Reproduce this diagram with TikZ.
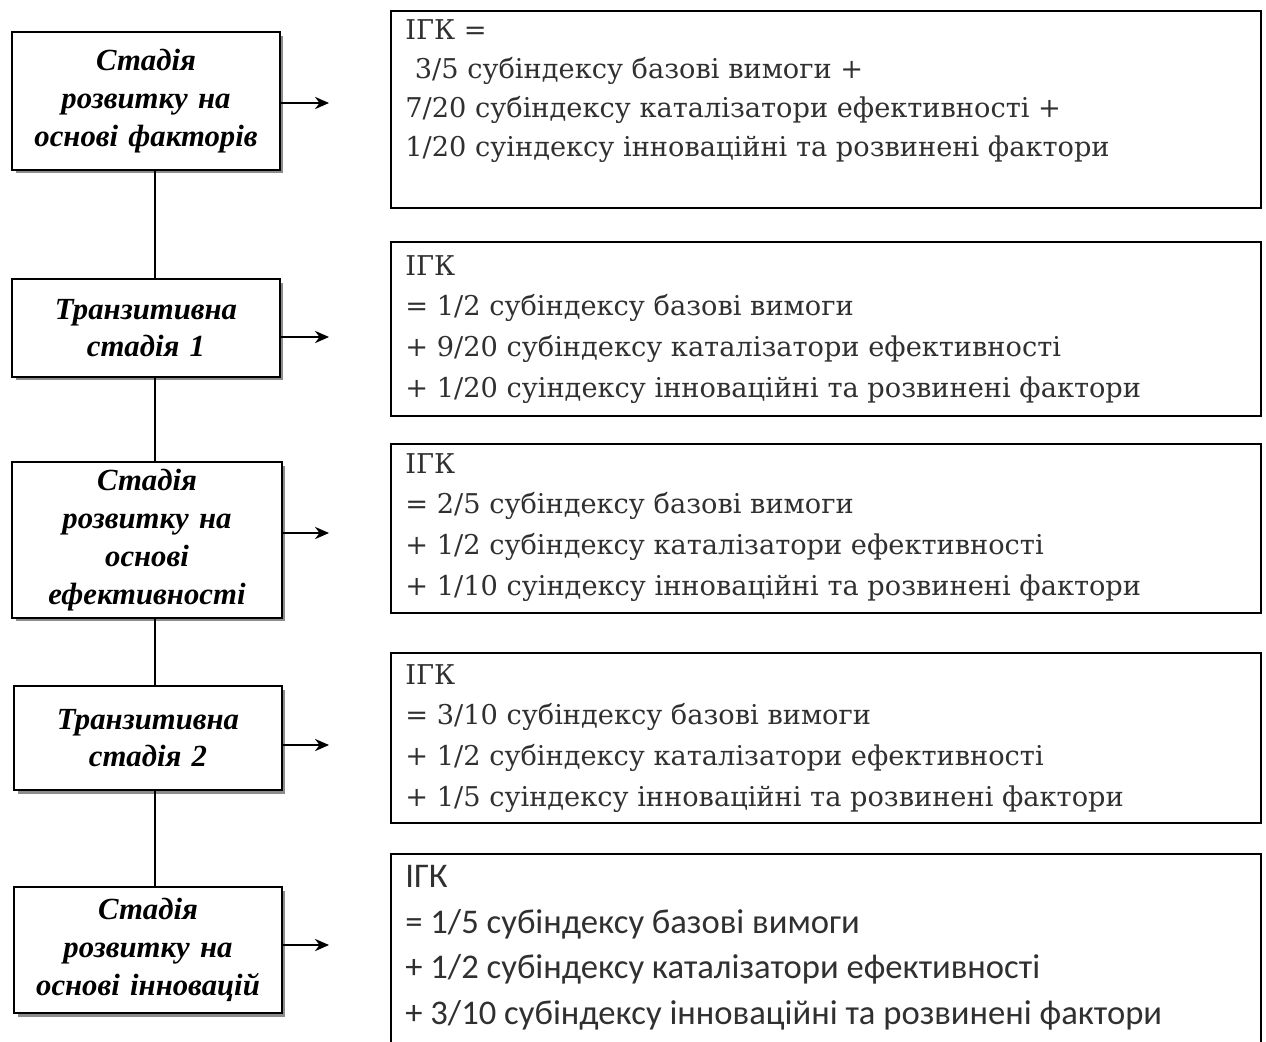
\documentclass[tikz,border=0pt]{standalone}
\usepackage{fontspec}
\setmainfont{DejaVu Serif}
\newfontfamily\stagefont{Liberation Serif}
\newfontfamily\calfont{Carlito}
\usetikzlibrary{shadows,arrows.meta}
\definecolor{txtgray}{HTML}{303030}
\tikzset{
  stage/.style={draw, line width=1.2pt, fill=white, minimum width=5.36cm,
    text width=5.2cm, align=center, inner sep=0pt,
    font=\stagefont\bfseries\itshape\fontsize{17.5}{21.5}\selectfont,
    drop shadow={shadow xshift=0.07cm, shadow yshift=-0.07cm, fill=gray, opacity=.9}},
  frame/.style={draw, line width=1.1pt, minimum width=17.4cm, inner sep=0pt, anchor=north west},
  formula/.style={anchor=north west, align=left, inner sep=0pt, text=txtgray,
    font=\fontsize{15.5}{23.2}\selectfont},
  link/.style={line width=0.9pt},
  arr/.style={line width=0.9pt, -{Stealth[length=8pt, width=7pt]}}
}
\begin{document}
\begin{tikzpicture}[x=0.02cm, y=-0.02cm]
\useasboundingbox (0,0) rectangle (1266,1041);
% stages
\node[stage, minimum height=2.76cm] (s1) at (146,101) {Стадія\\розвитку на\\основі факторів};
\node[stage, minimum height=1.96cm] (s2) at (146,328) {Транзитивна\\стадія 1};
\node[stage, minimum height=3.12cm, minimum width=5.4cm] (s3) at (147,540) {Стадія\\розвитку на\\основі\\ефективності};
\node[stage, minimum height=2.08cm] (s4) at (148,738) {Транзитивна\\стадія 2};
\node[stage, minimum height=2.52cm] (s5) at (148,950) {Стадія\\розвитку на\\основі інновацій};
% frames
\node[frame, minimum height=3.94cm] (r1) at (390,10) {};
\node[frame, minimum height=3.48cm] (r2) at (390,241) {};
\node[frame, minimum height=3.38cm] (r3) at (390,443) {};
\node[frame, minimum height=3.40cm] (r4) at (390,652) {};
\node[frame, minimum height=4.20cm] (r5) at (390,853) {};
% formulas
\node[formula, font=\fontsize{15.5}{22.2}\selectfont] (f1) at ([shift={(0.3cm,-0.18cm)}]r1.north west)
  {ІГК =\\\hspace{0.35em}3/5 субіндексу базові вимоги +\\7/20 субіндексу каталізатори ефективності +\\1/20 суіндексу інноваційні та розвинені фактори};
\node[formula] (f2) at ([shift={(0.3cm,-0.28cm)}]r2.north west)
  {ІГК\\= 1/2 субіндексу базові вимоги\\+ 9/20 субіндексу каталізатори ефективності\\+ 1/20 суіндексу інноваційні та розвинені фактори};
\node[formula] (f3) at ([shift={(0.3cm,-0.2cm)}]r3.north west)
  {ІГК\\= 2/5 субіндексу базові вимоги\\+ 1/2 субіндексу каталізатори ефективності\\+ 1/10 суіндексу інноваційні та розвинені фактори};
\node[formula] (f4) at ([shift={(0.3cm,-0.24cm)}]r4.north west)
  {ІГК\\= 3/10 субіндексу базові вимоги\\+ 1/2 субіндексу каталізатори ефективності\\+ 1/5 суіндексу інноваційні та розвинені фактори};
\node[formula, font=\calfont\fontsize{19.7}{26}\selectfont] (f5) at ([shift={(0.3cm,-0.24cm)}]r5.north west)
  {ІГК\\= 1/5 субіндексу базові вимоги\\+ 1/2 субіндексу каталізатори ефективності\\+ 3/10 субіндексу інноваційні та розвинені фактори};
% links between stages
\coordinate (v) at (155,0);
\draw[link] (s1.south -| v) -- (s2.north -| v);
\draw[link] (s2.south -| v) -- (s3.north -| v);
\draw[link] (s3.south -| v) -- (s4.north -| v);
\draw[link] (s4.south -| v) -- (s5.north -| v);
% arrows
\coordinate (t1) at (329,103);
\coordinate (t2) at (329,337);
\coordinate (t3) at (329,533);
\coordinate (t4) at (329,745);
\coordinate (t5) at (329,945);
\draw[arr] (s1.east |- t1) -- (t1);
\draw[arr] (s2.east |- t2) -- (t2);
\draw[arr] (s3.east |- t3) -- (t3);
\draw[arr] (s4.east |- t4) -- (t4);
\draw[arr] (s5.east |- t5) -- (t5);
\end{tikzpicture}
\end{document}
